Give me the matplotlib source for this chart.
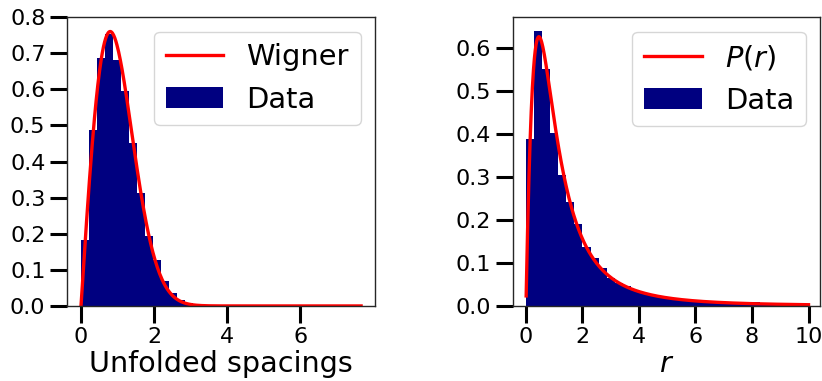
import numpy as np
import matplotlib
matplotlib.use('Agg')
import matplotlib.pyplot as plt

'''
Data (histogram heights read off the picture, density normalised)
'''
# unfolded spacings: 35 bins from 0 to s_max
s_max = 7.66
spacing_density = [0.183, 0.488, 0.686, 0.753, 0.681, 0.596, 0.451, 0.313,
                   0.194, 0.126, 0.069, 0.036, 0.017, 0.007, 0.003, 0.0015,
                   0.0008, 0.0004, 0.0002, 0.0001, 0, 0, 0, 0, 0, 0, 0, 0,
                   0, 0, 0, 0, 0, 0, 0.0001]

# ratio of consecutive spacings: 35 bins from 0 to r_max
r_max = 10.0
ratio_density = [0.388, 0.641, 0.552, 0.402, 0.306, 0.242, 0.192, 0.138,
                 0.112, 0.088, 0.065, 0.053, 0.046, 0.038, 0.030, 0.026,
                 0.024, 0.022, 0.019, 0.015, 0.013, 0.012, 0.011, 0.010,
                 0.009, 0.008, 0.007, 0.0085, 0.010, 0.008, 0.008, 0.006,
                 0.005, 0.005, 0.004]

'''
Theory curves (Wigner surmise and GOE ratio distribution)
'''
s = np.linspace(0, s_max, 500)
wigner = np.pi / 2 * s * np.exp(-np.pi * s**2 / 4)

r = np.linspace(0.007, r_max, 1000)
p_r = 27 / 8 * (r + r**2) / (1 + r + r**2)**2.5

'''
Plot
'''
plt.rcParams['font.family'] = 'DejaVu Sans'
fig = plt.figure(figsize=(8.22, 3.81), dpi=100)
ax1 = fig.add_axes([0.0815, 0.197, 0.3747, 0.758])
ax2 = fig.add_axes([0.6237, 0.197, 0.374, 0.758])


def draw(ax, heights, x_max, x_curve, y_curve, curve_label, xlabel):
    edges = np.linspace(0, x_max, len(heights) + 1)
    ax.bar(edges[:-1], heights, width=np.diff(edges), align='edge',
           color='navy', linewidth=0, label='Data')
    ax.plot(x_curve, y_curve, color='red', lw=2.4, label=curve_label)
    ax.set_xlabel(xlabel, fontsize=20.6, labelpad=2)
    ax.tick_params(labelsize=16, length=12, width=2.2)
    for sp in ax.spines.values():
        sp.set_linewidth(1.0)
        sp.set_color('0.15')
    ax.legend(fontsize=20.8, loc='upper right')


draw(ax1, spacing_density, s_max, s, wigner, 'Wigner', 'Unfolded spacings')
ax1.set_xlim(-0.383, 8.04)
ax1.set_ylim(0, 0.8)
ax1.set_xticks([0, 2, 4, 6])
ax1.set_yticks(np.arange(0, 0.81, 0.1))

draw(ax2, ratio_density, r_max, r, p_r, '$P(r)$', '$r$')
ax2.set_xlim(-0.47, 10.41)
ax2.set_ylim(0, 0.673)
ax2.set_xticks([0, 2, 4, 6, 8, 10])
ax2.set_yticks(np.arange(0, 0.61, 0.1))

fig.savefig('out.png', dpi=100)
